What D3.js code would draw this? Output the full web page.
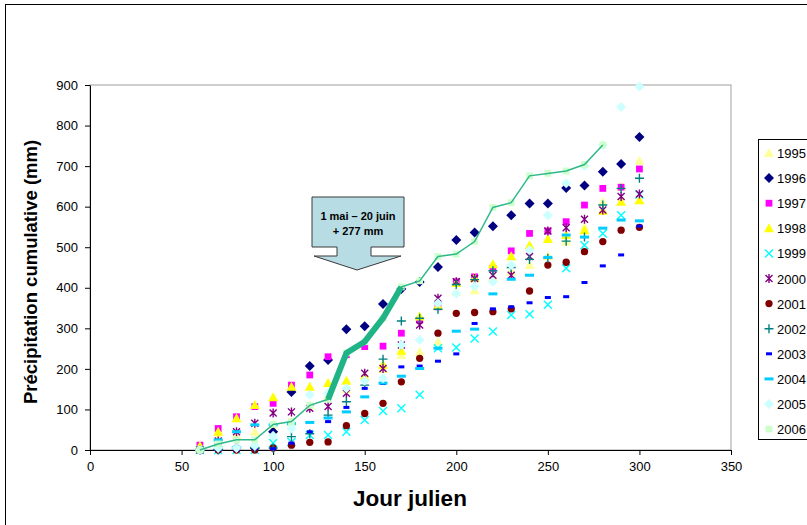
<!DOCTYPE html>
<html>
<head>
<meta charset="utf-8">
<script src="https://cdn.jsdelivr.net/npm/d3@7"></script>
<style>
  html, body { margin: 0; padding: 0; background: #fff; }
  svg { display: block; font-family: "Liberation Sans", Arial, sans-serif; }
</style>
</head>
<body>
<svg id="chart" width="807" height="525"></svg>
<script>
// Julian days of each reading
const days = [60,70,80,90,100,110,120,130,140,150,160,170,180,190,200,210,220,230,240,250,260,270,280,290,300];

// Cumulative precipitation (mm) per year
const y1995 = [5,30,37,45,62,70,110,135,150,185,200,234,242,267,390,394,425,440,456,478,514,550,612,650,713];
const y1996 = [0,2,5,5,45,143,207,222,298,305,360,397,414,451,518,536,552,579,608,608,646,652,686,705,772];
const y1997 = [12,53,82,107,115,160,185,230,235,255,256,288,320,353,415,427,448,491,534,540,563,604,645,648,693];
const y1998 = [10,45,78,111,130,156,156,165,171,180,210,245,329,355,412,425,458,478,505,520,530,542,590,612,616];
const y1999 = [0,0,0,0,17,20,37,37,45,74,96,103,136,251,253,275,292,333,335,358,448,505,534,579,630];
const y2000 = [0,22,45,66,91,94,103,107,140,189,201,259,308,374,415,423,431,431,477,540,548,569,592,625,631];
const y2001 = [0,0,0,0,5,12,19,20,60,90,115,168,226,288,337,339,341,348,392,456,463,489,514,542,549];
const y2002 = [0,0,5,5,5,33,40,86,119,160,224,318,325,347,408,420,442,450,470,473,515,525,604,645,670];
const y2003 = [0,0,0,3,3,17,45,70,105,152,164,205,207,219,237,312,348,353,363,376,378,413,454,481,552];
const y2004 = [0,25,45,62,62,65,68,79,94,131,165,182,201,251,293,298,385,421,431,475,530,525,547,567,565];
const y2005 = [0,5,5,10,35,53,136,140,152,171,177,259,271,362,386,403,415,456,493,579,658,700,752,846,896];
const y2006 = [0,15,25,25,63,70,110,125,239,267,325,402,417,477,483,514,598,610,676,682,688,704,752,null,null];

const years = ["1995","1996","1997","1998","1999","2000","2001","2002","2003","2004","2005","2006"];
const seriesValues = [y1995,y1996,y1997,y1998,y1999,y2000,y2001,y2002,y2003,y2004,y2005,y2006];

// Highlighted period: 1 May – 20 June
const highlightStart = 130, highlightEnd = 170;
const highlightText = ["1 mai \u2013 20 juin", "+ 277 mm"];

const xTicks = [0,50,100,150,200,250,300,350];
const yTicks = [0,100,200,300,400,500,600,700,800,900];

// marker style per year
const styles = [
  {shape: "triangle", color: "#ffff99"},
  {shape: "diamond",  color: "#000080"},
  {shape: "square",   color: "#ff00ff"},
  {shape: "triangle", color: "#ffff00"},
  {shape: "x",        color: "#00ffff"},
  {shape: "star",     color: "#800080"},
  {shape: "circle",   color: "#800000"},
  {shape: "plus",     color: "#008080"},
  {shape: "dash",     color: "#0000ff"},
  {shape: "longdash", color: "#00ccff"},
  {shape: "diamond",  color: "#ccffff"},
  {shape: "square",   color: "#ccffcc"}
];

const svg = d3.select("#chart");

// outer chart frame
svg.append("rect").attr("x", 5.5).attr("y", 4.5).attr("width", 820).attr("height", 540)
  .attr("fill", "none").attr("stroke", "#000").attr("stroke-width", 1);

const x = d3.scaleLinear().domain([0, 350]).range([90, 731]);
const y = d3.scaleLinear().domain([0, 900]).range([450, 85]);

// plot area border
svg.append("rect").attr("x", x(0)).attr("y", y(900)).attr("width", x(350) - x(0)).attr("height", y(0) - y(900))
  .attr("fill", "none").attr("stroke", "#a0a0a0").attr("stroke-width", 1);

// axes
const xAxis = svg.append("g").attr("transform", `translate(0,${y(0)})`)
  .call(d3.axisBottom(x).tickValues(xTicks).tickSize(5).tickSizeOuter(0).tickPadding(7));
const yAxis = svg.append("g").attr("transform", `translate(${x(0)},0)`)
  .call(d3.axisLeft(y).tickValues(yTicks).tickSize(5).tickSizeOuter(0).tickPadding(7));
[xAxis, yAxis].forEach(a => {
  a.select(".domain").attr("stroke", "#000");
  a.selectAll(".tick line").attr("stroke", "#000");
  a.selectAll(".tick text").attr("font-size", 13).attr("fill", "#000")
    .attr("font-family", "'Liberation Sans', Arial, sans-serif");
});

// axis titles
svg.append("text").attr("x", 410).attr("y", 506).attr("text-anchor", "middle")
  .attr("font-size", 22.5).attr("font-weight", "bold").text("Jour julien");
svg.append("text").attr("transform", `translate(37,272) rotate(-90)`)
  .attr("text-anchor", "middle").attr("font-size", 18.5).attr("font-weight", "bold")
  .text("Précipitation cumulative (mm)");

// marker drawing
function drawMarker(g, shape, color) {
  switch (shape) {
    case "triangle":
      g.append("path").attr("d", "M0,-5L5,4L-5,4Z").attr("fill", color); break;
    case "diamond":
      g.append("path").attr("d", "M0,-5L5,0L0,5L-5,0Z").attr("fill", color); break;
    case "square":
      g.append("path").attr("d", d3.symbol(d3.symbolSquare, 46)()).attr("fill", color); break;
    case "circle":
      g.append("path").attr("d", d3.symbol(d3.symbolCircle, 42)()).attr("fill", color); break;
    case "x":
      g.append("path").attr("d", "M-4,-4L4,4M-4,4L4,-4").attr("stroke", color).attr("stroke-width", 1.4).attr("fill", "none"); break;
    case "star":
      g.append("path").attr("d", "M-3.5,-3.5L3.5,3.5M-3.5,3.5L3.5,-3.5M0,-4.5L0,4.5").attr("stroke", color).attr("stroke-width", 1.4).attr("fill", "none"); break;
    case "plus":
      g.append("path").attr("d", "M-4.5,0L4.5,0M0,-4.5L0,4.5").attr("stroke", color).attr("stroke-width", 1.4).attr("fill", "none"); break;
    case "dash":
      g.append("rect").attr("x", -3).attr("y", -1.5).attr("width", 6).attr("height", 3).attr("fill", color); break;
    case "longdash":
      g.append("rect").attr("x", -4.5).attr("y", -1.5).attr("width", 9).attr("height", 3).attr("fill", color); break;
  }
}

// series markers
seriesValues.forEach((vals, i) => {
  const pts = days.map((d, j) => ({d, v: vals[j]})).filter(p => p.v != null);
  const g = svg.append("g").attr("class", "series-" + years[i]);
  pts.forEach(p => {
    const m = g.append("g").attr("transform", `translate(${x(p.d)},${y(p.v)})`);
    drawMarker(m, styles[i].shape, styles[i].color);
  });
});

// 2006 trajectory line, with the highlighted period drawn thick
const pts2006 = days.map((d, j) => ({d, v: y2006[j]})).filter(p => p.v != null);
const line = d3.line().x(p => x(p.d)).y(p => y(p.v));
svg.append("path").attr("d", line(pts2006)).attr("fill", "none")
  .attr("stroke", "#2fb88a").attr("stroke-width", 1.5);
svg.append("path").attr("d", line(pts2006.filter(p => p.d >= highlightStart && p.d <= highlightEnd)))
  .attr("fill", "none").attr("stroke", "#1fb386").attr("stroke-width", 6).attr("stroke-linejoin", "round");

// callout arrow
const bx0 = 312, bx1 = 404, by0 = 197, by1 = 247;
const sx0 = 337, sx1 = 371, hy = 256, hx0 = 314, hx1 = 401, tipY = 270, tipX = 357;
svg.append("path")
  .attr("d", `M${bx0},${by0}H${bx1}V${by1}H${sx1}V${hy}H${hx1}L${tipX},${tipY}L${hx0},${hy}H${sx0}V${by1}H${bx0}Z`)
  .attr("fill", "#b7dce3").attr("stroke", "#3a3a3a").attr("stroke-width", 1);
svg.append("text").attr("x", (bx0 + bx1) / 2).attr("y", 220).attr("text-anchor", "middle")
  .attr("font-size", 11).attr("font-weight", "bold").text(highlightText[0]);
svg.append("text").attr("x", (bx0 + bx1) / 2).attr("y", 235).attr("text-anchor", "middle")
  .attr("font-size", 11).attr("font-weight", "bold").text(highlightText[1]);

// legend
const lg = svg.append("g");
lg.append("rect").attr("x", 758.5).attr("y", 139.5).attr("width", 70).attr("height", 300)
  .attr("fill", "#fff").attr("stroke", "#000").attr("stroke-width", 1);
years.forEach((yr, i) => {
  const cy = 153 + i * 25.1;
  const m = lg.append("g").attr("transform", `translate(769,${cy})`);
  drawMarker(m, styles[i].shape, styles[i].color);
  lg.append("text").attr("x", 777).attr("y", cy + 5).attr("font-size", 13).text(yr);
});
</script>
</body>
</html>
